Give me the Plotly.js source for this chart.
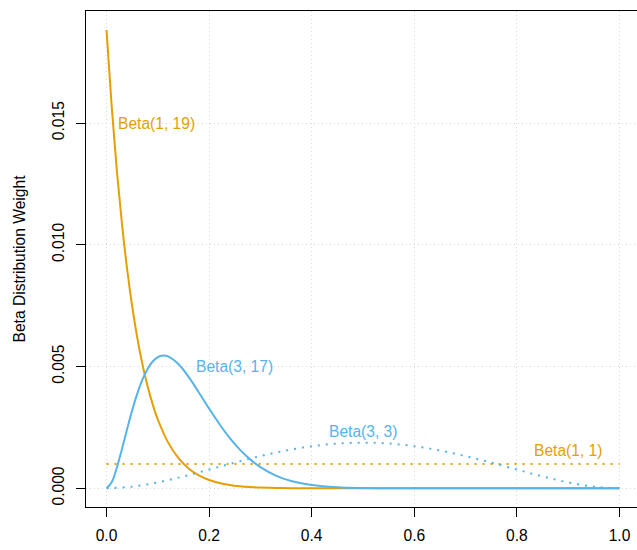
<!DOCTYPE html>
<html>
<head>
<meta charset="utf-8">
<script src="https://cdn.plot.ly/plotly-3.0.1.min.js"></script>
<style>html,body{margin:0;padding:0;background:#fff;}#chart{width:637px;height:550px;}</style>
</head>
<body>
<div id="chart"></div>
<script>
// Beta(1, 19) weights
const xB119 = [0, 0.01, 0.02, 0.03, 0.04, 0.05, 0.06, 0.07, 0.08, 0.09, 0.10, 0.12, 0.14, 0.16, 0.18, 0.20, 0.22, 0.24, 0.26, 0.28, 0.30, 0.33, 0.36, 0.40, 0.45, 0.50, 0.60, 0.70, 0.80, 0.90, 1.00];
const yB119 = [0.018821, 0.015706, 0.013082, 0.010878, 0.009027, 0.007476, 0.006179, 0.005097, 0.004196, 0.003447, 0.002825, 0.001885, 0.001246, 0.000816, 0.000529, 0.000339, 0.000215, 0.000135, 0.0000833, 0.0000509, 0.0000306, 0.0000139, 0.0000061, 0.0000019, 0.0000004, 0, 0, 0, 0, 0, 0];

// Beta(3, 17) weights
const xB317 = [0, 0.01, 0.02, 0.03, 0.04, 0.05, 0.06, 0.07, 0.08, 0.09, 0.10, 0.11, 0.12, 0.14, 0.16, 0.18, 0.20, 0.22, 0.24, 0.26, 0.28, 0.30, 0.33, 0.36, 0.40, 0.45, 0.50, 0.55, 0.60, 0.70, 0.80, 0.90, 1.00];
const yB317 = [0, 0.0002475, 0.0008416, 0.001607, 0.002420, 0.003199, 0.003888, 0.004460, 0.004900, 0.005208, 0.005387, 0.005451, 0.005414, 0.005101, 0.004572, 0.003936, 0.003273, 0.002641, 0.002074, 0.001589, 0.001188, 0.000869, 0.000522, 0.000298, 0.000131, 0.0000413, 0.0000111, 0.0000025, 0.0000005, 0, 0, 0, 0];

// Beta(3, 3) weights
const xB33 = [0, 0.05, 0.10, 0.15, 0.20, 0.25, 0.30, 0.35, 0.40, 0.45, 0.50, 0.55, 0.60, 0.65, 0.70, 0.75, 0.80, 0.85, 0.90, 0.95, 1.00];
const yB33 = [0, 0.0000677, 0.000243, 0.000488, 0.000768, 0.001055, 0.001323, 0.001553, 0.001728, 0.001838, 0.001875, 0.001838, 0.001728, 0.001553, 0.001323, 0.001055, 0.000768, 0.000488, 0.000243, 0.0000677, 0];

// Beta(1, 1) weights
const xB11 = [0, 1];
const yB11 = [0.000999, 0.000999];

// Labels
const labelText = ["Beta(1, 19)", "Beta(3, 17)", "Beta(3, 3)", "Beta(1, 1)"];
const labelX = [0.098, 0.25, 0.50, 0.90];
const labelY = [0.0150, 0.0050, 0.00232, 0.00154];
const labelColor = ["#E69F00", "#56B4E9", "#56B4E9", "#E69F00"];

const xTicks = [0, 0.2, 0.4, 0.6, 0.8, 1.0];
const yTicks = [0, 0.005, 0.010, 0.015];

const ORANGE = "#E69F00", BLUE = "#56B4E9";
const FONT = "Liberation Sans, Arial, sans-serif";
const FS = 15.6;

const traces = [
  {x: xB119, y: yB119, mode: "lines", line: {color: ORANGE, width: 2, shape: "spline"}, name: "Beta(1, 19)"},
  {x: xB11, y: yB11, mode: "lines", line: {color: ORANGE, width: 2, dash: "2px,6px"}, name: "Beta(1, 1)"},
  {x: xB317, y: yB317, mode: "lines", line: {color: BLUE, width: 2, shape: "spline"}, name: "Beta(3, 17)"},
  {x: xB33, y: yB33, mode: "lines", line: {color: BLUE, width: 2, dash: "2px,6px", shape: "spline"}, name: "Beta(3, 3)"}
];

const annotations = labelText.map((t, i) => ({
  x: labelX[i], y: labelY[i], xref: "x", yref: "y", text: t, showarrow: false,
  xanchor: "center", yanchor: "middle", font: {family: FONT, size: FS, color: labelColor[i]}
}));

const layout = {
  width: 637, height: 550,
  margin: {l: 86, r: 0, t: 11, b: 43, pad: 0},
  paper_bgcolor: "#fff", plot_bgcolor: "#fff",
  showlegend: false,
  font: {family: FONT, size: FS, color: "#000"},
  xaxis: {
    range: [-0.04, 1.0341], tickvals: xTicks, tickformat: ".1f",
    ticks: "outside", ticklen: 9, tickwidth: 1, tickcolor: "#000", ticklabelstandoff: 5,
    showline: true, linecolor: "#000", linewidth: 1, mirror: true,
    showgrid: true, gridcolor: "#d9d9d9", gridwidth: 1, griddash: "1px,3px",
    zeroline: false, tickfont: {family: FONT, size: FS, color: "#000"}
  },
  yaxis: {
    range: [-0.000768, 0.019599], tickvals: yTicks, tickformat: ".3f",
    ticks: "outside", ticklen: 9, tickwidth: 1, tickcolor: "#000", tickangle: -90, ticklabelstandoff: 6,
    showline: true, linecolor: "#000", linewidth: 1, mirror: false,
    showgrid: true, gridcolor: "#d9d9d9", gridwidth: 1, griddash: "1px,3px",
    zeroline: false, tickfont: {family: FONT, size: FS, color: "#000"},
    title: {text: "Beta Distribution Weight", font: {family: FONT, size: FS, color: "#000"}, standoff: 20}
  },
  annotations: annotations
};

Plotly.newPlot("chart", traces, layout, {displayModeBar: false, staticPlot: true});
</script>
</body>
</html>
